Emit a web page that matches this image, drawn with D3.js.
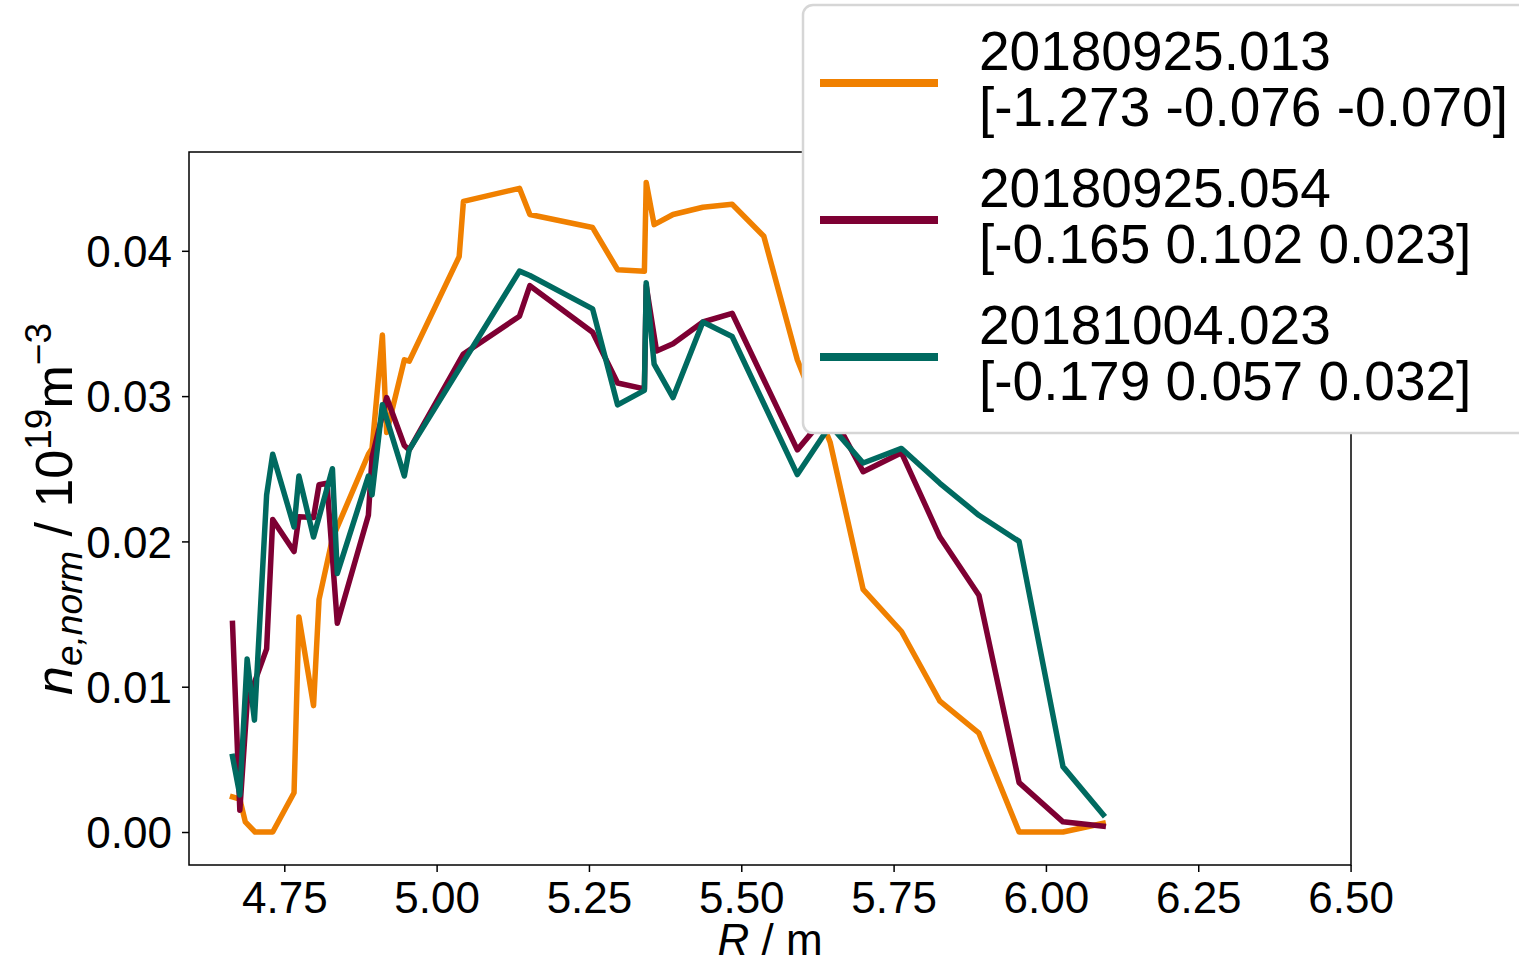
<!DOCTYPE html>
<html>
<head>
<meta charset="utf-8">
<script src="https://cdn.jsdelivr.net/npm/d3@7"></script>
<style>
  html, body { margin: 0; padding: 0; background: #ffffff; }
  svg { display: block; font-family: "Liberation Sans", Arial, Helvetica, sans-serif; }
</style>
</head>
<body>
<svg id="chart" width="1519" height="964"></svg>
<script>
// Normalised electron density profiles n_e,norm(R) for three discharges.
const shots = ["20180925.013", "20180925.054", "20181004.023"];
const offsets = ["[-1.273 -0.076 -0.070]", "[-0.165 0.102 0.023]", "[-0.179 0.057 0.032]"];
const colors = ["#f08000", "#7e0033", "#006a60"];

const R_013 = [4.665, 4.677, 4.686, 4.702, 4.731, 4.766, 4.774, 4.798, 4.807, 4.829,
  4.888, 4.894, 4.911, 4.918, 4.947, 4.955, 5.037, 5.044, 5.136, 5.153,
  5.256, 5.297, 5.341, 5.344, 5.357, 5.388, 5.437, 5.485, 5.537, 5.592,
  5.646, 5.700, 5.763, 5.826, 5.890, 5.956, 6.028, 6.094];
const ne_013 = [0.00242, 0.00227, 0.0007, 0.0, 0.0, 0.0027, 0.0148, 0.0087, 0.0160, 0.0202,
  0.0260, 0.0264, 0.0342, 0.0275, 0.0325, 0.0324, 0.0396, 0.0434, 0.0443, 0.0425,
  0.0416, 0.0387, 0.0386, 0.0447, 0.0418, 0.0425, 0.0430, 0.0432, 0.0410, 0.0325,
  0.0268, 0.0167, 0.0138, 0.0090, 0.0068, 0.0, 0.0, 0.0006];

const R_054 = [4.665, 4.677, 4.689, 4.721, 4.731, 4.766, 4.774, 4.798, 4.807, 4.820,
  4.837, 4.888, 4.894, 4.918, 4.947, 4.955, 5.044, 5.136, 5.153, 5.256,
  5.297, 5.341, 5.344, 5.361, 5.388, 5.437, 5.485, 5.592, 5.646, 5.700,
  5.763, 5.826, 5.890, 5.956, 6.028, 6.094];
const ne_054 = [0.01436, 0.0015, 0.0089, 0.0126, 0.0215, 0.0193, 0.0217, 0.02165, 0.0239, 0.0240,
  0.01436, 0.0218, 0.0258, 0.0299, 0.0266, 0.0263, 0.0329, 0.0355, 0.0376, 0.0344,
  0.0309, 0.0305, 0.0376, 0.0331, 0.0336, 0.0351, 0.0357, 0.0263, 0.0290, 0.0248,
  0.0261, 0.0203, 0.0163, 0.0034, 0.0007, 0.0004];

const R_023 = [4.665, 4.677, 4.689, 4.701, 4.721, 4.731, 4.766, 4.774, 4.798, 4.829,
  4.837, 4.888, 4.894, 4.911, 4.947, 4.955, 5.136, 5.153, 5.256, 5.297,
  5.341, 5.344, 5.357, 5.388, 5.437, 5.485, 5.592, 5.646, 5.700, 5.763,
  5.826, 5.890, 5.956, 6.028, 6.094];
const ne_023 = [0.0052, 0.00255, 0.0119, 0.0077, 0.0232, 0.0260, 0.0210, 0.0245, 0.0203, 0.0250,
  0.0178, 0.0245, 0.0232, 0.0294, 0.0245, 0.0263, 0.0386, 0.0383, 0.0360, 0.0294,
  0.0304, 0.0378, 0.0322, 0.0299, 0.0351, 0.0341, 0.0246, 0.0280, 0.0254, 0.0264,
  0.0240, 0.0218, 0.0200, 0.0045, 0.0012];

const xTicks = [4.75, 5.00, 5.25, 5.50, 5.75, 6.00, 6.25, 6.50];
const yTicks = [0.00, 0.01, 0.02, 0.03, 0.04];

const series = [
  { R: R_013, ne: ne_013 },
  { R: R_054, ne: ne_054 },
  { R: R_023, ne: ne_023 }
];

// Plot frame
const plotL = 189, plotR = 1351, plotT = 152, plotB = 865;
const x = d3.scaleLinear().domain([4.5936, 6.5007]).range([plotL, plotR]);
const y = d3.scaleLinear().domain([-0.00227, 0.0468]).range([plotB, plotT]);

const svg = d3.select("#chart");
const tickFont = 44;

// Profiles
const line = d3.line().x(d => x(d[0])).y(d => y(d[1]));
series.forEach((s, i) => {
  const pts = s.R.map((r, k) => [r, s.ne[k]]);
  svg.append("path")
    .attr("d", line(pts))
    .attr("fill", "none")
    .attr("stroke", colors[i])
    .attr("stroke-width", 5.5)
    .attr("stroke-linejoin", "round")
    .attr("stroke-linecap", "square");
});

// Axes
const xAxis = d3.axisBottom(x).tickValues(xTicks).tickFormat(d3.format(".2f"))
  .tickSizeInner(7).tickSizeOuter(0).tickPadding(6);
const yAxis = d3.axisLeft(y).tickValues(yTicks).tickFormat(d3.format(".2f"))
  .tickSizeInner(7).tickSizeOuter(0).tickPadding(10);

const gx = svg.append("g").attr("transform", `translate(0,${plotB})`).call(xAxis);
const gy = svg.append("g").attr("transform", `translate(${plotL},0)`).call(yAxis);
[gx, gy].forEach(g => {
  g.select(".domain").remove();
  g.selectAll(".tick line").attr("stroke", "#000").attr("stroke-width", 1.5);
  g.selectAll(".tick text")
    .attr("fill", "#000")
    .attr("font-size", tickFont)
    .attr("font-family", "'Liberation Sans', Arial, sans-serif");
});
gx.selectAll(".tick text").attr("dy", null).attr("y", 48);
gy.selectAll(".tick text").attr("dy", "0.36em");

// Spines
svg.append("rect")
  .attr("x", plotL).attr("y", plotT)
  .attr("width", plotR - plotL).attr("height", plotB - plotT)
  .attr("fill", "none").attr("stroke", "#000").attr("stroke-width", 1.5);

// Axis labels
const xl = svg.append("text")
  .attr("x", (plotL + plotR) / 2).attr("y", 955)
  .attr("text-anchor", "middle").attr("font-size", tickFont).attr("fill", "#000");
xl.append("tspan").attr("font-style", "italic").text("R");
xl.append("tspan").text(" / m");

const yl = svg.append("text")
  .attr("transform", "translate(72,509) rotate(-90)")
  .attr("text-anchor", "middle").attr("font-size", 52).attr("fill", "#000");
yl.append("tspan").attr("font-style", "italic").text("n");
yl.append("tspan").attr("font-style", "italic").attr("font-size", 37).attr("dy", 10).text("e,norm");
yl.append("tspan").attr("dy", -10).text(" / 10");
yl.append("tspan").attr("font-size", 37).attr("dy", -21).text("19");
yl.append("tspan").attr("dy", 21).text("m");
yl.append("tspan").attr("font-size", 37).attr("dy", -21).text("\u22123");

// Legend
const lg = svg.append("g");
lg.append("rect")
  .attr("x", 803).attr("y", 5).attr("width", 780).attr("height", 428)
  .attr("rx", 10).attr("ry", 10)
  .attr("fill", "#ffffff").attr("stroke", "#d6d6d6").attr("stroke-width", 2.5);
shots.forEach((name, i) => {
  const oy = 137 * i;
  lg.append("line")
    .attr("x1", 820).attr("x2", 938)
    .attr("y1", 83 + oy).attr("y2", 83 + oy)
    .attr("stroke", colors[i]).attr("stroke-width", 8);
  lg.append("text").attr("x", 979).attr("y", 70 + oy)
    .attr("font-size", 55).attr("fill", "#000").text(name);
  lg.append("text").attr("x", 979).attr("y", 126 + oy)
    .attr("font-size", 55).attr("fill", "#000").text(offsets[i]);
});
</script>
</body>
</html>
